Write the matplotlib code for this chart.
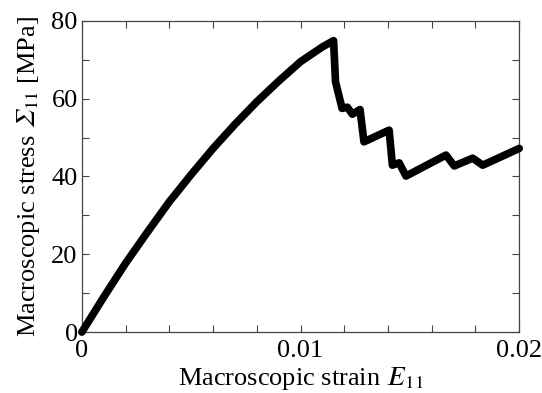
import matplotlib.pyplot as plt
from matplotlib.ticker import MultipleLocator, FixedLocator

plt.rcParams['font.family'] = ['Liberation Serif', 'DejaVu Serif']
plt.rcParams['mathtext.fontset'] = 'stix'

# macroscopic strain E11 and stress Sigma11 [MPa]
strain = [0, 0.001, 0.002, 0.003, 0.004, 0.005, 0.006, 0.007, 0.008, 0.009,
          0.010, 0.011, 0.01151, 0.0116, 0.0119, 0.01214, 0.01237, 0.01272,
          0.0129, 0.01405, 0.0142, 0.01451, 0.01482, 0.01665, 0.01703,
          0.01749, 0.01787, 0.01833, 0.0200]
stress = [0, 9.0, 17.7, 25.7, 33.5, 40.5, 47.2, 53.4, 59.2, 64.5,
          69.5, 73.3, 74.9, 64.3, 57.5, 57.8, 56.0, 57.2,
          48.9, 51.9, 42.9, 43.5, 40.1, 45.5, 42.7,
          43.8, 44.7, 42.9, 47.2]

xticks = [0, 0.01, 0.02]
xticklabels = ['0', '0.01', '0.02']
yticks = [0, 20, 40, 60, 80]

fig = plt.figure(figsize=(5.42, 3.93), dpi=100)
ax = fig.add_axes([0.151, 0.155, 0.807, 0.792])

ax.plot(strain, stress, color='black', lw=5.5, solid_joinstyle='round',
        solid_capstyle='round', clip_on=False, zorder=3)

ax.set_xlim(0, 0.02)
ax.set_ylim(0, 80)
ax.xaxis.set_major_locator(FixedLocator(xticks))
ax.set_xticklabels(xticklabels)
ax.xaxis.set_minor_locator(MultipleLocator(0.002))
ax.yaxis.set_major_locator(FixedLocator(yticks))
ax.yaxis.set_minor_locator(MultipleLocator(10))

ax.tick_params(which='both', direction='in', top=True, right=True,
               labelsize=19, color='#444444', width=0.8)
ax.tick_params(which='major', length=5)
ax.tick_params(which='minor', length=5)
ax.tick_params(axis='x', which='major', pad=6)
ax.tick_params(axis='y', which='major', pad=3)
for s in ax.spines.values():
    s.set_color('#444444')
    s.set_linewidth(0.9)

ax.set_xlabel('Macroscopic strain $\U0001D438_{11}$', fontsize=19, labelpad=2)
ax.set_ylabel('Macroscopic stress $\U0001D6F4_{11}$ [MPa]', fontsize=19, labelpad=7)

fig.savefig('out.png', dpi=100)
